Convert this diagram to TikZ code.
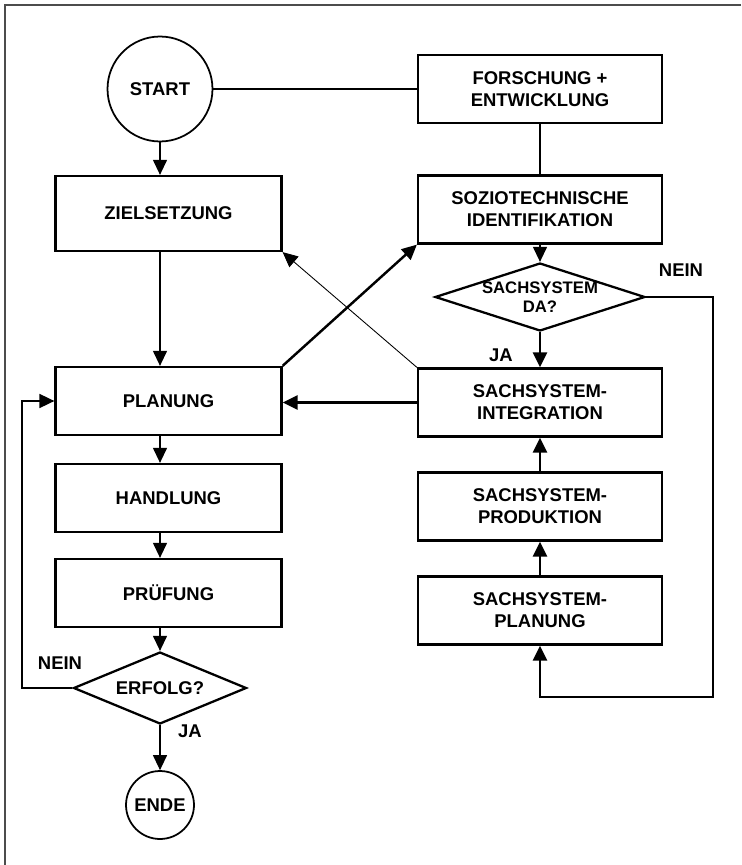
\documentclass[tikz,border=0pt]{standalone}
\usepackage{fontspec}
\setmainfont{Liberation Sans}
\usetikzlibrary{arrows.meta,positioning,calc,shapes.geometric}

\begin{document}
\begin{tikzpicture}[
      x=0.02cm, y=-0.02cm,
      box/.style={draw=black, fill=white, line width=1.3pt, minimum width=4.52cm, minimum height=1.36cm, align=center, font=\fontsize{10.5pt}{12.5pt}\selectfont\bfseries, inner sep=2pt},
      wbox/.style={box, minimum width=4.88cm},
      term/.style={draw=black, fill=white, circle, line width=1pt, align=center, font=\fontsize{10.5pt}{12.5pt}\selectfont\bfseries, inner sep=0pt},
      decision/.style={draw=black, fill=white, diamond, line width=1.3pt, align=center, font=\fontsize{9.5pt}{10.5pt}\selectfont\bfseries, inner sep=0pt},
      lbl/.style={font=\fontsize{10.5pt}{12.5pt}\selectfont\bfseries, inner sep=0pt},
      arr/.style={-{Triangle[length=0.3cm, width=0.28cm]}, line width=0.7pt, color=black},
      tarr/.style={-{Triangle[length=0.3cm, width=0.28cm]}, line width=1.4pt, color=black},
      plain/.style={line width=0.6pt, color=black}
  ]
      \useasboundingbox (0,0) rectangle (741,865);
      \draw[line width=1.2pt, color=black!70] (741,5) -- (5,5) -- (5,865);

      % LEFT COLUMN
      \node[term, minimum size=2.1cm] (start) at (160, 89) {START};
      \node[box, minimum height=1.5cm] (ziel) at (168.5, 213.5) {ZIELSETZUNG};
      \node[box] (plan) at (168.5, 401) {PLANUNG};
      \node[box] (handl) at (168.5, 498) {HANDLUNG};
      \node[box] (pruef) at (168.5, 593) {PRÜFUNG};
      \node[decision, aspect=2.4, minimum width=3.46cm, minimum height=1.44cm, font=\fontsize{10.5pt}{12.5pt}\selectfont\bfseries] (erfolg) at (160, 688) {ERFOLG?};
      \node[term, minimum size=1.36cm] (ende) at (160, 805) {ENDE};
      \coordinate (lp) at (22, 688);

      \node[lbl] (nein1) at (60, 663) {NEIN};
      \node[lbl] (ja1) at (190, 731) {JA};

      \draw[arr] (start) -- (start |- ziel.north);
      \draw[arr] (ziel.south -| start) -- (plan.north -| start);
      \draw[arr] (plan.south -| start) -- (handl.north -| start);
      \draw[arr] (handl.south -| start) -- (pruef.north -| start);
      \draw[arr] (pruef.south -| start) -- (erfolg.north);
      \draw[arr] (erfolg) -- (ende);
      \draw[arr, line width=1pt] (erfolg.west) -- (lp) |- (plan.west);

      % RIGHT COLUMN
      \node[wbox] (fue) at (540, 89) {FORSCHUNG +\\ENTWICKLUNG};
      \node[wbox] (soz) at (540, 209.5) {SOZIOTECHNISCHE\\IDENTIFIKATION};
      \node[decision, aspect=3.1, minimum width=4.2cm, minimum height=1.36cm] (sda) at (540, 297) {SACHSYSTEM\\DA?};
      \node[wbox] (integ) at (540, 402.5) {SACHSYSTEM-\\INTEGRATION};
      \node[wbox] (prod) at (540, 506.5) {SACHSYSTEM-\\PRODUKTION};
      \node[wbox] (splan) at (540, 610.5) {SACHSYSTEM-\\PLANUNG};
      \coordinate (rc) at (713, 697);

      \node[lbl] (nein2) at (681, 270) {NEIN};
      \node[lbl] (ja2) at (501, 355) {JA};

      \draw[plain] (start) -- (fue);
      \draw[plain] (fue) -- (soz);
      \draw[arr] (soz) -- (sda);
      \draw[tarr] (sda) -- (integ);
      \draw[tarr] (sda.east) -| (rc) -| (splan.south);
      \draw[tarr] (splan) -- (prod);
      \draw[tarr] (prod) -- (integ);

      % CROSS LINKS
      \draw[tarr] (integ.west) -- (integ.west -| plan.east);
      \draw[tarr] (plan.north east) -- (soz.south west);
      \draw[arr, line width=0.5pt] (integ.north west) -- (ziel.south east);
  \end{tikzpicture}
\end{document}
